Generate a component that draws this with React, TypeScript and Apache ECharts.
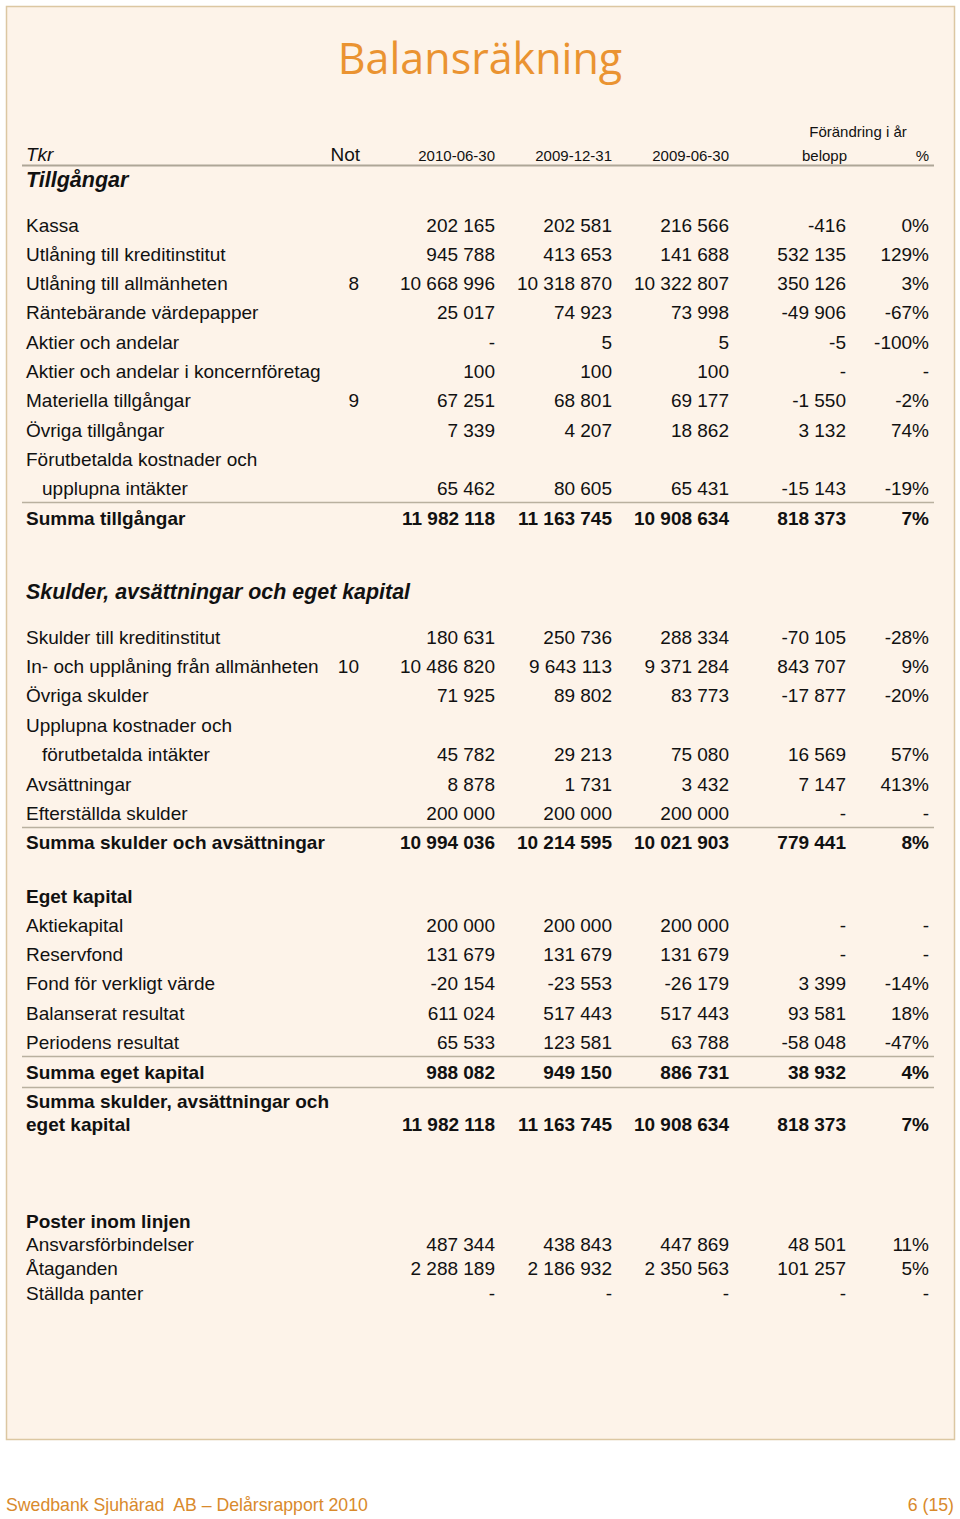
import React, { useEffect, useRef } from "react";
import * as echarts from "echarts";

// ---------- DATA ----------
const title = "Balansräkning";
const unitLabel = "Tkr";
const notHeader = "Not";
const dateHeaders = ["2010-06-30", "2009-12-31", "2009-06-30"];
const changeHeader = "Förändring i år";
const changeSubHeaders = ["belopp", "%"];

const assetsTitle = "Tillgångar";
const assetLabels = [
  "Kassa",
  "Utlåning till kreditinstitut",
  "Utlåning till allmänheten",
  "Räntebärande värdepapper",
  "Aktier och andelar",
  "Aktier och andelar i koncernföretag",
  "Materiella tillgångar",
  "Övriga tillgångar",
  "Förutbetalda kostnader och|upplupna intäkter",
  "Summa tillgångar",
];
const assetNot = ["", "", "8", "", "", "", "9", "", "", ""];
const assets2010 = [202165, 945788, 10668996, 25017, null, 100, 67251, 7339, 65462, 11982118];
const assets2009dec = [202581, 413653, 10318870, 74923, 5, 100, 68801, 4207, 80605, 11163745];
const assets2009jun = [216566, 141688, 10322807, 73998, 5, 100, 69177, 18862, 65431, 10908634];
const assetsChange = [-416, 532135, 350126, -49906, -5, null, -1550, 3132, -15143, 818373];
const assetsPct = [0, 129, 3, -67, -100, null, -2, 74, -19, 7];

const liabTitle = "Skulder, avsättningar och eget kapital";
const liabLabels = [
  "Skulder till kreditinstitut",
  "In- och upplåning från allmänheten",
  "Övriga skulder",
  "Upplupna kostnader och|förutbetalda intäkter",
  "Avsättningar",
  "Efterställda skulder",
  "Summa skulder och avsättningar",
];
const liabNot = ["", "10", "", "", "", "", ""];
const liab2010 = [180631, 10486820, 71925, 45782, 8878, 200000, 10994036];
const liab2009dec = [250736, 9643113, 89802, 29213, 1731, 200000, 10214595];
const liab2009jun = [288334, 9371284, 83773, 75080, 3432, 200000, 10021903];
const liabChange = [-70105, 843707, -17877, 16569, 7147, null, 779441];
const liabPct = [-28, 9, -20, 57, 413, null, 8];

const equityTitle = "Eget kapital";
const equityLabels = [
  "Aktiekapital",
  "Reservfond",
  "Fond för verkligt värde",
  "Balanserat resultat",
  "Periodens resultat",
  "Summa eget kapital",
  "Summa skulder, avsättningar och|eget kapital",
];
const equity2010 = [200000, 131679, -20154, 611024, 65533, 988082, 11982118];
const equity2009dec = [200000, 131679, -23553, 517443, 123581, 949150, 11163745];
const equity2009jun = [200000, 131679, -26179, 517443, 63788, 886731, 10908634];
const equityChange = [null, null, 3399, 93581, -58048, 38932, 818373];
const equityPct = [null, null, -14, 18, -47, 4, 7];

const offTitle = "Poster inom linjen";
const offLabels = ["Ansvarsförbindelser", "Åtaganden", "Ställda panter"];
const off2010 = [487344, 2288189, null];
const off2009dec = [438843, 2186932, null];
const off2009jun = [447869, 2350563, null];
const offChange = [48501, 101257, null];
const offPct = [11, 5, null];

const footerLeft = "Swedbank Sjuhärad  AB – Delårsrapport 2010";
const footerRight = "6 (15)";

// ---------- HELPERS ----------
const FONT = "'Liberation Sans', Arial, Helvetica, sans-serif";
const fmtNum = (v: number | null) => {
  if (v === null) return "-";
  const s = Math.abs(v).toString().replace(/\B(?=(\d{3})+(?!\d))/g, " ");
  return (v < 0 ? "-" : "") + s;
};
const fmtPct = (v: number | null) => (v === null ? "-" : v + "%");

const COLS = [495, 612, 729, 846, 929];
const NOT_X = 359;
const LABEL_X = 26;
const INDENT_X = 42;

function txt(text: string, x: number, y: number, opts: any = {}) {
  const size = opts.size ?? 19;
  const weight = opts.bold ? "bold" : "normal";
  const style = opts.italic ? "italic" : "normal";
  return {
    type: "text",
    silent: true,
    style: {
      text,
      x,
      y,
      fill: opts.color ?? "#111",
      font: `${style} ${weight} ${size}px ${opts.family ?? FONT}`,
      align: opts.align ?? "left",
      textAlign: opts.align ?? "left",
      verticalAlign: "middle",
      textVerticalAlign: "middle",
    },
  };
}

function hline(y: number, width = 1.5, color = "#b9b09f") {
  return {
    type: "line",
    silent: true,
    shape: { x1: 22, y1: y, x2: 934, y2: y },
    style: { stroke: color, lineWidth: width },
  };
}

function buildRows(
  labels: string[],
  nots: string[] | null,
  cols: (number | null)[][],
  pct: (number | null)[],
  startY: number,
  step: number,
  boldFrom: number[],
  els: any[]
) {
  let y = startY;
  labels.forEach((lab, i) => {
    const bold = boldFrom.includes(i);
    const parts = lab.split("|");
    if (parts.length > 1) {
      els.push(txt(parts[0], LABEL_X, y, { bold }));
      y += bold ? 23.5 : step;
      els.push(txt(parts[1], bold ? LABEL_X : INDENT_X, y, { bold }));
    } else {
      els.push(txt(lab, LABEL_X, y, { bold }));
    }
    if (nots && nots[i]) els.push(txt(nots[i], NOT_X, y, { align: "right" }));
    cols.forEach((c, ci) => {
      els.push(txt(fmtNum(c[i]), COLS[ci], y, { align: "right", bold }));
    });
    els.push(txt(fmtPct(pct[i]), COLS[4], y, { align: "right", bold }));
    y += step;
  });
}

export default function App() {
  const ref = useRef<HTMLDivElement>(null);
  useEffect(() => {
    if (!ref.current) return;
    const chart = echarts.init(ref.current, undefined, { renderer: "svg" });
    const els: any[] = [];

    // page box
    els.push({
      type: "rect",
      silent: true,
      shape: { x: 6.5, y: 6.5, width: 948, height: 1433 },
      style: { fill: "#fdf3e9", stroke: "#dcc7a2", lineWidth: 1.5 },
    });

    // title
    els.push(
      txt(title, 480, 57, {
        size: 43,
        align: "center",
        color: "#ea9331",
        family: "'Open Sans', 'Noto Sans', sans-serif",
      })
    );

    // header
    els.push(txt(changeHeader, 858, 131, { size: 15, align: "center" }));
    els.push(txt(unitLabel, LABEL_X, 154, { italic: true }));
    els.push(txt(notHeader, 360, 154, { align: "right" }));
    dateHeaders.forEach((d, i) => els.push(txt(d, COLS[i], 155, { size: 15, align: "right" })));
    els.push(txt(changeSubHeaders[0], 847, 155, { size: 15, align: "right" }));
    els.push(txt(changeSubHeaders[1], COLS[4], 155, { size: 15, align: "right" }));
    els.push(hline(165.5, 2, "#aea697"));

    // assets
    els.push(txt(assetsTitle, LABEL_X, 180, { size: 21.5, bold: true, italic: true }));
    buildRows(
      assetLabels,
      assetNot,
      [assets2010, assets2009dec, assets2009jun, assetsChange],
      assetsPct,
      225,
      29.3,
      [9],
      els
    );
    els.push(hline(502.5));

    // liabilities
    els.push(txt(liabTitle, LABEL_X, 592, { size: 21.4, bold: true, italic: true }));
    buildRows(
      liabLabels,
      liabNot,
      [liab2010, liab2009dec, liab2009jun, liabChange],
      liabPct,
      637,
      29.4,
      [6],
      els
    );
    els.push(hline(827.5));

    // equity
    els.push(txt(equityTitle, LABEL_X, 896, { bold: true }));
    buildRows(
      equityLabels,
      null,
      [equity2010, equity2009dec, equity2009jun, equityChange],
      equityPct,
      925,
      29.4,
      [5, 6],
      els
    );
    els.push(hline(1056.5));
    els.push(hline(1087.5));

    // off-balance items
    els.push(txt(offTitle, LABEL_X, 1221, { bold: true }));
    buildRows(
      offLabels,
      null,
      [off2010, off2009dec, off2009jun, offChange],
      offPct,
      1244.5,
      24.4,
      [],
      els
    );

    // footer
    els.push(txt(footerLeft, 6, 1505, { size: 17.7, color: "#d98a2c" }));
    els.push(txt(footerRight, 954, 1505, { size: 17.7, color: "#d98a2c", align: "right" }));

    chart.setOption({
      animation: false,
      backgroundColor: "#ffffff",
      graphic: { elements: els },
    });
    return () => chart.dispose();
  }, []);
  return (
    <div
      ref={ref}
      style={{ position: "absolute", left: 0, top: 0, width: 960, height: 1519 }}
    />
  );
}
